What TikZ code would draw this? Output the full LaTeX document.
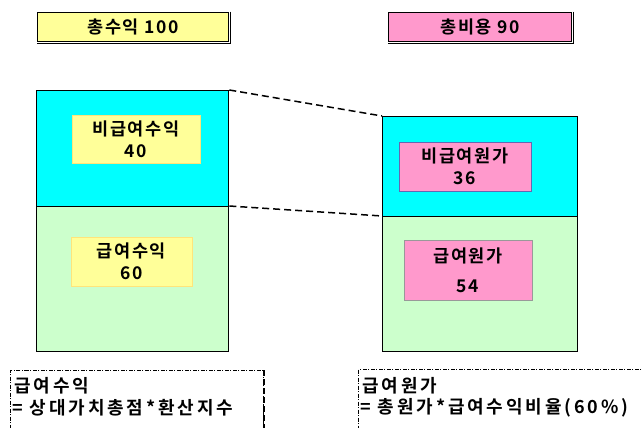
\documentclass[tikz,border=0pt]{standalone}
\usepackage{fontspec}
\newfontfamily\kr[LetterSpace=9, BoldFont={* Bold}]{Noto Sans CJK KR}
\newfontfamily\krw[LetterSpace=16, BoldFont={* Bold}]{Noto Sans CJK KR}
\definecolor{cyanc}{HTML}{00FFFF}
\definecolor{greenc}{HTML}{CCFFCC}
\definecolor{yellowc}{HTML}{FFFF99}
\definecolor{pinkc}{HTML}{FF99CC}
\begin{document}
\begin{tikzpicture}[x=1pt,y=-1pt,
  every node/.style={font=\kr\bfseries\fontsize{17.5}{22}\selectfont, inner sep=0pt, align=center},
  headbox/.style={draw=black, line width=1.6pt, minimum height=29pt,
    double copy shadow={shadow xshift=1.2pt, shadow yshift=-1.2pt, fill=black, draw=black}},
  sect/.style={draw=black, line width=1.3pt, anchor=north west, minimum width=#1},
  lab/.style={minimum width=#1},
  conn/.style={draw=black, line width=1.5pt, dash pattern=on 7pt off 4pt},
  note/.style={draw=black, line width=1pt, dash pattern=on 4pt off 1.5pt on 1pt off 1.5pt},
  notetext/.style={anchor=west, font=\krw\bfseries\fontsize{18}{22}\selectfont}]
\useasboundingbox (0,0) rectangle (642,428);
\clip (0,0) rectangle (642,428);
% header boxes
\node[draw=black, line width=1.6pt, minimum height=29pt, fill=yellowc, minimum width=191pt] (h1) at (133,27) {총수익 100};
\node[draw=black, line width=1.6pt, minimum height=29pt, fill=pinkc, minimum width=183pt] (h2) at (480,27) {총비용 90};
\draw[line width=1.2pt] ([xshift=1.2pt]h1.north east) -- ([xshift=1.2pt,yshift=-1.2pt]h1.south east) -- ([yshift=-1.2pt]h1.south west);
\draw[line width=1.2pt] ([xshift=1.2pt]h2.north east) -- ([xshift=1.2pt,yshift=-1.2pt]h2.south east) -- ([yshift=-1.2pt]h2.south west);
% left column
\node[sect=192pt, fill=cyanc, minimum height=116pt] (ltop) at (36,90) {};
\node[sect=192pt, fill=greenc, minimum height=145pt] (lbot) at (36,206) {};
% right column
\node[sect=195pt, fill=cyanc, minimum height=100pt] (rtop) at (382,116) {};
\node[sect=195pt, fill=greenc, minimum height=135pt] (rbot) at (382,216) {};
% inner labels
\node[lab=128pt, fill=yellowc, draw=yellowc!80!orange, line width=0.4pt, minimum height=48pt] (l1) at (136,139) {비급여수익\\40};
\node[lab=121pt, fill=yellowc, draw=yellowc!80!orange, line width=0.4pt, minimum height=49pt] (l2) at (131.5,261.5) {급여수익\\60};
\node[lab=132pt, fill=pinkc, draw=black!50!blue!60, line width=0.6pt, minimum height=49pt] (r1) at (465,166.5) {비급여원가\\36};
\node[lab=128pt, fill=pinkc, draw=black!40, line width=0.6pt, minimum height=60pt] (r2) at (468,270) {급여원가\\[8pt]54};
% connectors
\draw[conn] (ltop.north east) -- (rtop.north west);
\draw[conn] (lbot.north east) -- (rbot.north west);
% notes
\node[note, anchor=north west, minimum width=253pt, minimum height=80pt] (n1) at (10,370) {};
\draw[line width=2pt, dash pattern=on 6pt off 3pt] (n1.north east) -- (n1.south east);
\node[notetext] (n1a) at (14,386) {급여수익};
\node[notetext] (n1b) at (12,408) {= 상대가치총점*환산지수};
\node[note, anchor=north west, minimum width=300pt, minimum height=80pt] (n2) at (358,369) {};
\node[notetext] (n2a) at (362,386) {급여원가};
\node[notetext] (n2b) at (360,408) {= 총원가*급여수익비율(60\%)};
\end{tikzpicture}
\end{document}
